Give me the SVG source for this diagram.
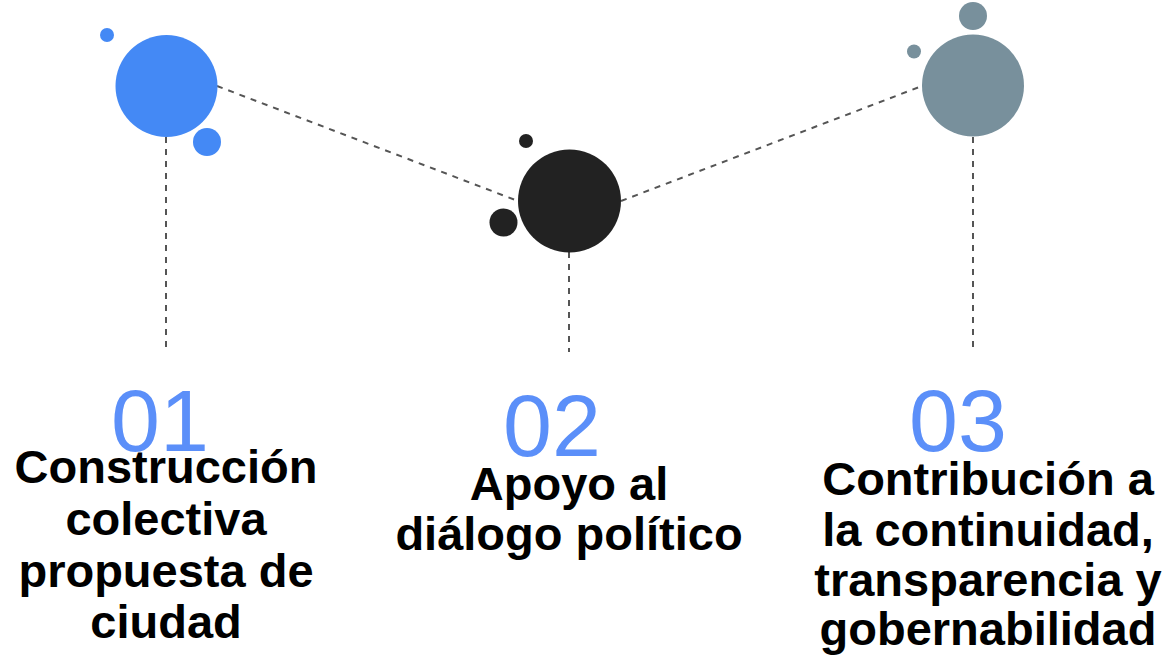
<svg xmlns="http://www.w3.org/2000/svg" width="1167" height="664" viewBox="0 0 1167 664">
<style>
.conn{stroke:#555;stroke-width:2;stroke-dasharray:6 6;fill:none}
.num{font-family:"Liberation Sans",Arial,sans-serif;font-size:88px;fill:#5B8FF9;text-anchor:middle}
.lbl{font-family:"Liberation Sans",Arial,sans-serif;font-size:47px;font-weight:bold;fill:#000;text-anchor:middle}
.c1{fill:#4489F5}
.c2{fill:#222}
.c3{fill:#78909C}
</style>
<rect width="1167" height="664" fill="#fff"/>
<g id="connectors">
<line class="conn" x1="217" y1="86" x2="518" y2="201"/>
<line class="conn" x1="621" y1="201" x2="922" y2="86"/>
<line class="conn" x1="166" y1="137" x2="166" y2="352"/>
<line class="conn" x1="569" y1="252" x2="569" y2="352"/>
<line class="conn" x1="973" y1="137" x2="973" y2="352"/>
</g>
<g id="node1">
<circle class="c1" cx="166.5" cy="86" r="51"/>
<circle class="c1" cx="107" cy="35" r="7"/>
<circle class="c1" cx="207" cy="142" r="14"/>
<text class="num" x="160" y="451">01</text>
<text class="lbl"><tspan x="166" y="483">Construcción</tspan><tspan x="166" y="535">colectiva</tspan><tspan x="166" y="587">propuesta de</tspan><tspan x="166" y="638">ciudad</tspan></text>
</g>
<g id="node2">
<circle class="c2" cx="569.5" cy="201" r="51.5"/>
<circle class="c2" cx="526" cy="141" r="7"/>
<circle class="c2" cx="503.5" cy="222.5" r="14"/>
<text class="num" x="552" y="456">02</text>
<text class="lbl"><tspan x="569" y="500">Apoyo al</tspan><tspan x="569" y="550">diálogo político</tspan></text>
</g>
<g id="node3">
<circle class="c3" cx="973" cy="85.5" r="51"/>
<circle class="c3" cx="914" cy="51.5" r="7"/>
<circle class="c3" cx="973" cy="16" r="14"/>
<text class="num" x="958" y="451">03</text>
<text class="lbl"><tspan x="988" y="495">Contribución a</tspan><tspan x="988" y="546">la continuidad,</tspan><tspan x="988" y="596">transparencia y</tspan><tspan x="988" y="645">gobernabilidad</tspan></text>
</g>
</svg>
